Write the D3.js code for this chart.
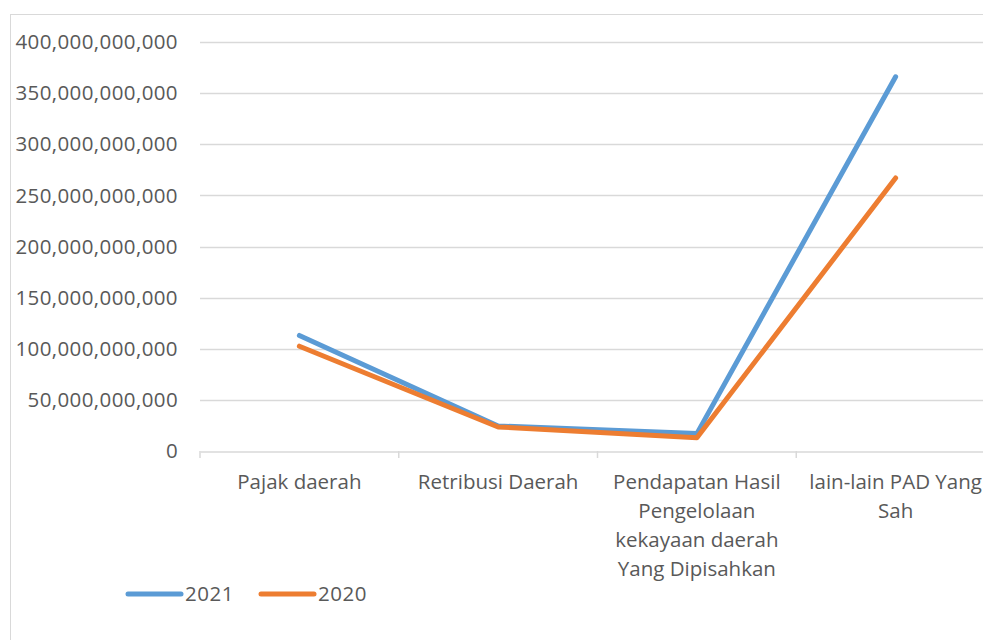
<!DOCTYPE html>
<html>
<head>
<meta charset="utf-8">
<script src="https://cdn.jsdelivr.net/npm/d3@7"></script>
<style>
  body { margin: 0; background: #fff; }
  text { font-family: "Open Sans", "Noto Sans", sans-serif; fill: #595959; }
</style>
</head>
<body>
<svg id="chart" width="983" height="640"></svg>
<script>
// categories (with the line breaks used in the picture)
const categories = ["Pajak daerah", "Retribusi Daerah", "Pendapatan Hasil", "lain-lain PAD Yang"];
const categoryLines = [
  ["Pajak daerah"],
  ["Retribusi Daerah"],
  ["Pendapatan Hasil", "Pengelolaan", "kekayaan daerah", "Yang Dipisahkan"],
  ["lain-lain PAD Yang", "Sah"]
];
const seriesNames = ["2021", "2020"];
const values2021 = [113e9, 24.5e9, 17e9, 366e9];
const values2020 = [102.5e9, 23.5e9, 13e9, 267e9];
const yTicks = [0, 50e9, 100e9, 150e9, 200e9, 250e9, 300e9, 350e9, 400e9];
const colors = ["#5B9BD5", "#ED7D31"];

const svg = d3.select("#chart");

// chart frame
svg.append("rect")
  .attr("x", 10.5).attr("y", 14.5)
  .attr("width", 1000).attr("height", 700)
  .attr("fill", "none").attr("stroke", "#D9D9D9").attr("stroke-width", 1);

const plot = { left: 200, right: 995, top: 42, bottom: 451 };

const x = d3.scaleBand().domain(categories).range([plot.left, plot.right]);
const y = d3.scaleLinear().domain([0, 400e9]).range([plot.bottom, plot.top]);

// gridlines
svg.append("g")
  .selectAll("line")
  .data(yTicks.filter(d => d > 0))
  .enter().append("line")
  .attr("x1", plot.left).attr("x2", plot.right)
  .attr("y1", d => Math.round(y(d)) + 0.5).attr("y2", d => Math.round(y(d)) + 0.5)
  .attr("stroke", "#D9D9D9").attr("stroke-width", 1.5);

// y labels
svg.append("g")
  .selectAll("text")
  .data(yTicks)
  .enter().append("text")
  .attr("x", 178)
  .attr("y", d => y(d))
  .attr("dy", "0.35em")
  .attr("text-anchor", "end")
  .style("font-size", "20.5px")
  .style("letter-spacing", "0.4px")
  .text(d => d3.format(",")(d));

// x axis
const xAxis = svg.append("g")
  .attr("transform", `translate(0,${plot.bottom + 0.5})`)
  .call(d3.axisBottom(x).tickSize(0).tickFormat(""));
xAxis.select(".domain").attr("stroke", "#D9D9D9").attr("stroke-width", 1.5);

svg.append("g")
  .selectAll("line")
  .data(categories)
  .enter().append("line")
  .attr("x1", d => x(d)).attr("x2", d => x(d))
  .attr("y1", plot.bottom).attr("y2", plot.bottom + 7)
  .attr("stroke", "#D9D9D9").attr("stroke-width", 1.5);

// category labels
const labels = svg.append("g")
  .selectAll("text")
  .data(categories)
  .enter().append("text")
  .attr("text-anchor", "middle")
  .style("font-size", "20.5px");

labels.each(function(d, i) {
  const t = d3.select(this);
  categoryLines[i].forEach((line, j) => {
    t.append("tspan")
      .attr("x", x(d) + x.bandwidth() / 2)
      .attr("y", 489 + j * 29)
      .text(line);
  });
});

// lines
const line = d3.line()
  .x((d, i) => x(categories[i]) + x.bandwidth() / 2)
  .y(d => y(d));

[values2021, values2020].forEach((vals, k) => {
  svg.append("path")
    .datum(vals)
    .attr("d", line)
    .attr("fill", "none")
    .attr("stroke", colors[k])
    .attr("stroke-width", 5)
    .attr("stroke-linecap", "round")
    .attr("stroke-linejoin", "round");
});

// legend
const legend = svg.append("g")
  .selectAll("g")
  .data(seriesNames)
  .enter().append("g")
  .attr("transform", (d, i) => `translate(${128 + i * 133},594)`);

legend.append("line")
  .attr("x1", 0).attr("x2", 53)
  .attr("stroke", (d, i) => colors[i])
  .attr("stroke-width", 5)
  .attr("stroke-linecap", "round");

legend.append("text")
  .attr("x", 57)
  .attr("dy", "0.35em")
  .style("font-size", "20.5px")
  .style("letter-spacing", "0.5px")
  .text(d => d);
</script>
</body>
</html>
